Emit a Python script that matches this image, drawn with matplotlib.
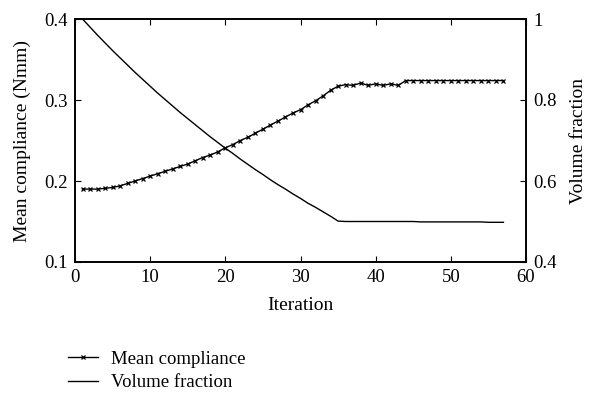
import numpy as np
import matplotlib.pyplot as plt

plt.rcParams['font.family'] = ['Liberation Serif', 'DejaVu Serif']

# Iterations and read-off values
iterations = list(range(1, 58))

mean_compliance = [
    0.190, 0.190, 0.190, 0.191, 0.192, 0.194, 0.197, 0.200, 0.203, 0.206,
    0.209, 0.212, 0.215, 0.218, 0.221, 0.225, 0.229, 0.232, 0.236, 0.241,
    0.245, 0.250, 0.254, 0.259, 0.264, 0.269, 0.274, 0.279, 0.284, 0.288,
    0.294, 0.299, 0.305, 0.312, 0.317, 0.319, 0.318, 0.321, 0.318, 0.320,
    0.318, 0.320, 0.318, 0.324, 0.324, 0.324, 0.324, 0.324, 0.324, 0.324,
    0.324, 0.324, 0.324, 0.324, 0.324, 0.324, 0.324,
]

volume_fraction = [
    1.000, 0.980, 0.960, 0.941, 0.922, 0.904, 0.886, 0.868, 0.851, 0.834,
    0.817, 0.801, 0.785, 0.769, 0.754, 0.739, 0.724, 0.709, 0.695, 0.681,
    0.668, 0.654, 0.641, 0.628, 0.616, 0.603, 0.591, 0.580, 0.568, 0.557,
    0.545, 0.535, 0.524, 0.513, 0.501, 0.500, 0.500, 0.500, 0.500, 0.500,
    0.500, 0.500, 0.500, 0.500, 0.500, 0.499, 0.499, 0.499, 0.499, 0.499,
    0.499, 0.499, 0.499, 0.499, 0.498, 0.498, 0.498,
]

fig = plt.figure(figsize=(5.91, 3.94), dpi=100)
ax = fig.add_axes([75 / 591, 1 - 262 / 394, 451 / 591, 243 / 394])
ax2 = ax.twinx()

l1, = ax.plot(iterations, mean_compliance, color='black', lw=1.0,
              marker='x', ms=3.2, mew=0.9, label='Mean compliance')
l2, = ax2.plot(iterations, volume_fraction, color='black', lw=1.0,
               label='Volume fraction')

ax.set_xlim(0, 60)
ax.set_ylim(0.1, 0.4)
ax2.set_ylim(0.4, 1.0)
ax.set_xticks([0, 10, 20, 30, 40, 50, 60])
ax.set_yticks([0.1, 0.2, 0.3, 0.4])
ax2.set_yticks([0.4, 0.6, 0.8, 1.0])
ax2.set_yticklabels(['0.4', '0.6', '0.8', '1'])

ax.tick_params(direction='in', top=True, labelsize=13.5, length=4, pad=5)
ax2.tick_params(direction='in', labelsize=13.5, length=4, pad=5)
for a in (ax, ax2):
    for s in a.spines.values():
        s.set_linewidth(1.2)

ax.set_xlabel('Iteration', fontsize=14, labelpad=8)
ax.set_ylabel('Mean compliance (Nmm)', fontsize=14, labelpad=10)
ax2.set_ylabel('Volume fraction', fontsize=14, labelpad=10)

fig.legend(handles=[l1, l2], loc='upper left', bbox_to_anchor=(60 / 591, 1 - 343 / 394),
           frameon=False, fontsize=13.5, handlelength=1.6, labelspacing=0.35,
           handletextpad=0.7, borderaxespad=0)

fig.savefig('out.png', dpi=100)
